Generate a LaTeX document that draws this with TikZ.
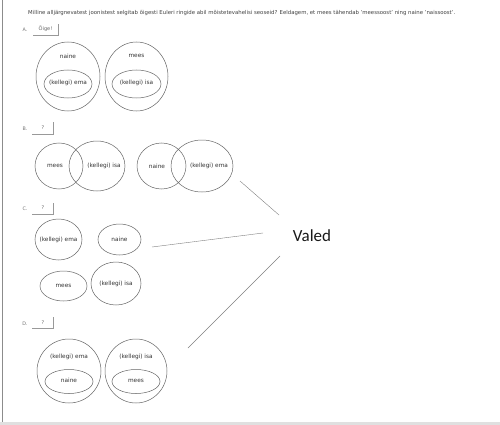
\documentclass[tikz,border=0pt]{standalone}
\usepackage{fontspec}
\setmainfont{DejaVu Sans}
\newfontfamily\valedfont{Carlito}
\usetikzlibrary{shapes.geometric}
\begin{document}
\begin{tikzpicture}[x=1pt,y=-1pt,
  set/.style={ellipse,draw=black!60,line width=0.5pt,inner sep=0pt},
  lbl/.style={font=\fontsize{5.8}{6}\selectfont,text=black!80,inner sep=0pt},
  letter/.style={font=\fontsize{4.8}{5}\selectfont,text=black!55,inner sep=0pt},
  conn/.style={draw=black!50,line width=0.4pt},
  btntext/.style={font=\fontsize{5}{5}\selectfont,text=black!60,inner sep=0pt}]
\useasboundingbox (0,0) rectangle (500,425);
\fill[white] (0,0) rectangle (500,425);
\fill[black!12] (0,421.5) rectangle (500,425);
\draw[black!45,line width=0.8pt] (2.5,0) -- (2.5,421.5);
% title
\node[anchor=west,inner sep=0pt,text=black!75] (title) at (28,13)
  {\resizebox{427pt}{!}{\fontsize{6}{6}\selectfont Milline alljärgnevatest joonistest selgitab õigesti Euleri ringide abil mõistetevahelisi seoseid? Eeldagem, et mees tähendab 'meessoost' ning naine 'naissoost'.}};
% A
\node[letter] (la) at (25,30) {A.};
\node[btntext] (ba) at (45.5,29) {Õige!};
\draw[black!40,line width=0.5pt] (33,35) -- (58,35) -- (58,24);
\node[set,minimum width=64,minimum height=69] (a1) at (68,76.5) {};
\node[set,minimum width=48,minimum height=28] (a1i) at (68,84) {};
\node[lbl] (a1t) at (68,56) {naine};
\node[lbl] (a1it) at (68,83) {(kellegi) ema};
\node[set,minimum width=63,minimum height=69] (a2) at (136.5,76.5) {};
\node[set,minimum width=49,minimum height=28] (a2i) at (136.5,84) {};
\node[lbl] (a2t) at (136.5,56) {mees};
\node[lbl] (a2it) at (136.5,83) {(kellegi) isa};
% B
\node[letter] (lb) at (25,129) {B.};
\node[btntext] (bb) at (43,128) {?};
\draw[black!40,line width=0.5pt] (32,134) -- (53,134) -- (53,122);
\node[set,minimum width=48,minimum height=46] (b1) at (59,166) {};
\node[set,minimum width=56,minimum height=50] (b2) at (97,166) {};
\node[lbl] (b1t) at (55,166) {mees};
\node[lbl] (b2t) at (104,166) {(kellegi) isa};
\node[set,minimum width=49,minimum height=46] (b3) at (161.5,166) {};
\node[set,minimum width=62,minimum height=52] (b4) at (202,166) {};
\node[lbl] (b3t) at (157,166) {naine};
\node[lbl] (b4t) at (209,166) {(kellegi) ema};
% C
\node[letter] (lc) at (25,209) {C.};
\node[btntext] (bc) at (43,208) {?};
\draw[black!40,line width=0.5pt] (32,214) -- (53,214) -- (53,203);
\node[set,minimum width=47,minimum height=41] (c1) at (58.5,239.5) {};
\node[lbl] (c1t) at (58.5,239.5) {(kellegi) ema};
\node[set,minimum width=43,minimum height=31] (c2) at (119.5,239.5) {};
\node[lbl] (c2t) at (119.5,239.5) {naine};
\node[set,minimum width=47,minimum height=30] (c3) at (63.5,286) {};
\node[lbl] (c3t) at (63.5,286) {mees};
\node[set,minimum width=50,minimum height=43] (c4) at (116,283.5) {};
\node[lbl] (c4t) at (116,283.5) {(kellegi) isa};
% D
\node[letter] (ld) at (25,324) {D.};
\node[btntext] (bd) at (43,323) {?};
\draw[black!40,line width=0.5pt] (32,328) -- (53,328) -- (53,317);
\node[set,minimum width=64,minimum height=64] (d1) at (69,371) {};
\node[set,minimum width=48,minimum height=24] (d1i) at (69,381.5) {};
\node[lbl] (d1t) at (69,357) {(kellegi) ema};
\node[lbl] (d1it) at (69,380.5) {naine};
\node[set,minimum width=62,minimum height=64] (d2) at (136,371) {};
\node[set,minimum width=48,minimum height=24] (d2i) at (136,381.5) {};
\node[lbl] (d2t) at (136,357) {(kellegi) isa};
\node[lbl] (d2it) at (136,380.5) {mees};
% Valed
\node[font=\valedfont\fontsize{17}{17}\selectfont,inner sep=0pt,text=black!90] (valed) at (312,236) {Valed};
\coordinate (vb) at (279,215);
\coordinate (vc) at (263,233);
\coordinate (vd) at (280,256);
\coordinate (eb) at (240,181);
\coordinate (ec) at (152,247);
\coordinate (ed) at (188,348);
\draw[conn] (eb) -- (vb);
\draw[conn] (ec) -- (vc);
\draw[conn] (ed) -- (vd);
\end{tikzpicture}
\end{document}
